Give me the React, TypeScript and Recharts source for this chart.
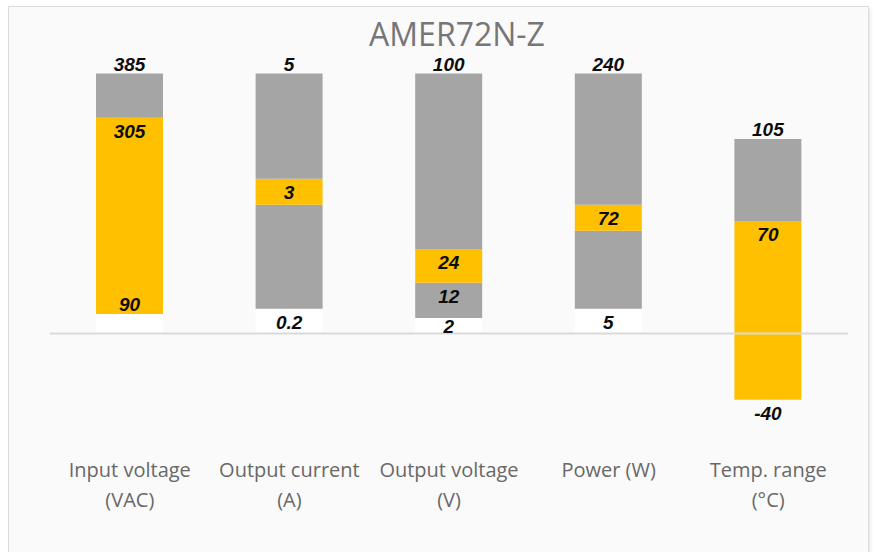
import React from 'react';
import { BarChart, Bar, XAxis, YAxis, ReferenceLine, LabelList } from 'recharts';

const categories = [
  'Input voltage\n(VAC)',
  'Output current\n(A)',
  'Output voltage\n(V)',
  'Power (W)',
  'Temp. range\n(°C)',
];

// segment heights in chart units (100 = a full-height bar)
const baseSeg = [7.5, 9.5, 6, 9.5, 0];
const lowGraySeg = [0, 40, 13.5, 30, 0];
const orangeSeg = [75.5, 10, 13, 10, 43.3];
const topGraySeg = [17, 40.5, 67.5, 50.5, 31.5];
const negOrangeSeg = [0, 0, 0, 0, -25.5];

// printed values
const topLabels = ['385', '5', '100', '240', '105'];
const orangeLabels = ['305', '3', '24', '72', '70'];
const orangeFloorLabels = ['90', '', '', '', ''];
const lowGrayLabels = ['', '', '12', '', ''];
const baseLabels = ['', '0.2', '2', '5', ''];
const negLabels = ['', '', '', '', '-40'];

const data = categories.map((name, i) => ({
  name,
  base: baseSeg[i],
  lowGray: lowGraySeg[i],
  orange: orangeSeg[i],
  topGray: topGraySeg[i],
  negOrange: negOrangeSeg[i],
  topTxt: topLabels[i],
  orangeTxt: orangeLabels[i],
  floorTxt: orangeFloorLabels[i],
  lowTxt: lowGrayLabels[i],
  baseTxt: baseLabels[i],
  negTxt: negLabels[i],
}));

const GRAY = '#a5a5a5';
const ORANGE = '#ffc000';

const labelStyle = {
  fontFamily: '"Liberation Sans", Arial, sans-serif',
  fontWeight: 700,
  fontStyle: 'italic',
  fontSize: 19,
  fill: '#0d0d0d',
};

type Mode = 'above' | 'inside' | 'floor' | 'below';

const makeLabel = (mode: Mode) => (props: any) => {
  const { x, y, width, height, value } = props;
  if (!value) return null;
  const h = Math.abs(Number(height));
  const top = Math.min(Number(y), Number(y) + Number(height));
  const bottom = top + h;
  let ty = top;
  if (mode === 'above') ty = top - 3;
  else if (mode === 'inside') ty = top + Math.min(20, h / 2 + 7.5);
  else if (mode === 'floor') ty = bottom - 3;
  else ty = bottom + 20;
  return (
    <text x={Number(x) + Number(width) / 2} y={ty} textAnchor="middle" style={labelStyle}>
      {value}
    </text>
  );
};

const CategoryTick = (props: any) => {
  const { x, y, payload } = props;
  const lines = String(payload.value).split('\n');
  return (
    <g>
      {lines.map((ln, i) => (
        <text
          key={i}
          x={x}
          y={y + 39 + i * 30}
          textAnchor="middle"
          style={{ fontFamily: '"Open Sans", sans-serif', fontSize: 20, fill: '#686868' }}
        >
          {ln}
        </text>
      ))}
    </g>
  );
};

export default function App() {
  return (
    <div style={{ position: 'relative', width: 875, height: 552, background: '#ffffff', overflow: 'hidden' }}>
      <style>{'body{margin:0}'}</style>
      <div
        style={{
          position: 'absolute',
          left: 8,
          top: 6,
          width: 859,
          height: 600,
          background: '#fafafa',
          border: '1.5px solid #dcdcdc',
          boxShadow: '2px 2px 3px rgba(0,0,0,0.08)',
        }}
      />
      <svg width={875} height={60} style={{ position: 'absolute', left: 0, top: 0 }}>
        <text
          x={457}
          y={46}
          textAnchor="middle"
          style={{ fontFamily: '"Open Sans", sans-serif', fontSize: 32, fill: '#767676' }}
        >
          AMER72N-Z
        </text>
      </svg>
      <div style={{ position: 'absolute', left: 0, top: 0 }}>
        <BarChart
          width={875}
          height={552}
          data={data}
          stackOffset="sign"
          barSize={67}
          margin={{ top: 47.5, right: 27, left: 50, bottom: 14.5 }}
        >
          <XAxis
            dataKey="name"
            axisLine={false}
            tickLine={false}
            tickSize={0}
            tickMargin={0}
            height={100}
            interval={0}
            tick={<CategoryTick />}
          />
          <YAxis hide type="number" domain={[-40, 110]} allowDataOverflow />
          <Bar dataKey="base" stackId="s" fill="#ffffff" isAnimationActive={false}>
            <LabelList dataKey="baseTxt" content={makeLabel('inside')} />
          </Bar>
          <Bar dataKey="lowGray" stackId="s" fill={GRAY} isAnimationActive={false}>
            <LabelList dataKey="lowTxt" content={makeLabel('inside')} />
          </Bar>
          <Bar dataKey="orange" stackId="s" fill={ORANGE} isAnimationActive={false}>
            <LabelList dataKey="orangeTxt" content={makeLabel('inside')} />
            <LabelList dataKey="floorTxt" content={makeLabel('floor')} />
          </Bar>
          <Bar dataKey="topGray" stackId="s" fill={GRAY} isAnimationActive={false}>
            <LabelList dataKey="topTxt" content={makeLabel('above')} />
          </Bar>
          <Bar dataKey="negOrange" stackId="s" fill={ORANGE} isAnimationActive={false}>
            <LabelList dataKey="negTxt" content={makeLabel('below')} />
          </Bar>
          <ReferenceLine y={0} stroke="#d9d9d9" strokeWidth={2} />
        </BarChart>
      </div>
    </div>
  );
}
